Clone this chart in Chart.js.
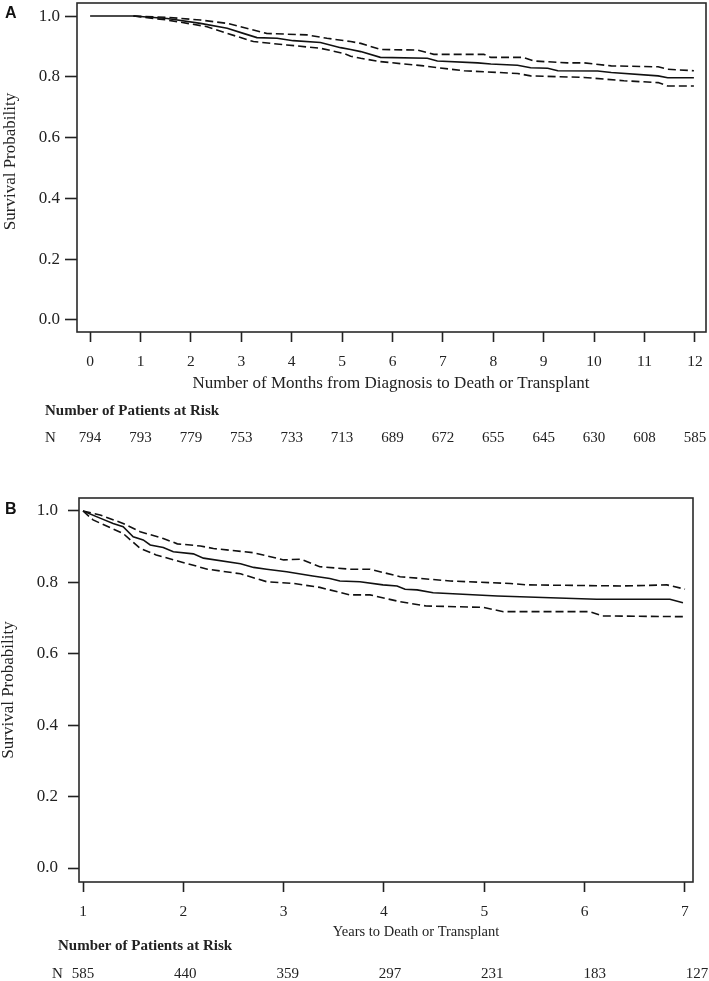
<!DOCTYPE html>
<html>
<head>
<meta charset="utf-8">
<script src="https://cdn.jsdelivr.net/npm/chart.js@4.4.0/dist/chart.umd.min.js"></script>
<style>
  html, body { margin: 0; padding: 0; background: #fff; }
  #wrap { position: relative; width: 709px; height: 981px; }
  canvas { position: absolute; left: 0; }
  #chartA { top: 0; width: 709px; height: 460px; }
  #chartB { top: 460px; width: 709px; height: 521px; }
</style>
</head>
<body>
<div id="wrap">
  <canvas id="chartA" width="709" height="460"></canvas>
  <canvas id="chartB" width="709" height="521"></canvas>
</div>
<script>
  // ────────── Panel A data: months from diagnosis ──────────
  const monthTicks = [0, 1, 2, 3, 4, 5, 6, 7, 8, 9, 10, 11, 12];
  const monthRisk  = [794, 793, 779, 753, 733, 713, 689, 672, 655, 645, 630, 608, 585];

  const aSurvX  = [0, 0.86, 1.53, 2.19, 2.72, 3.04, 3.31, 3.71, 4.03, 4.57, 4.97, 5.17, 5.37, 5.76, 6.69, 6.89, 7.69, 7.95, 8.48, 8.74, 9.08, 9.28, 10.07, 10.34, 11.27, 11.46, 11.98];
  const aSurvY  = [1.0, 1.0, 0.992, 0.976, 0.96, 0.943, 0.929, 0.927, 0.919, 0.913, 0.896, 0.89, 0.883, 0.864, 0.861, 0.852, 0.846, 0.842, 0.838, 0.83, 0.828, 0.82, 0.819, 0.814, 0.803, 0.797, 0.797];
  const aUpperX = [0.86, 1.53, 2.19, 2.72, 3.24, 3.5, 4.3, 4.7, 5.17, 5.37, 5.76, 6.5, 6.82, 7.81, 7.95, 8.6, 8.8, 9.47, 9.8, 10.34, 11.27, 11.46, 11.98];
  const aUpperY = [1.0, 0.996, 0.987, 0.976, 0.954, 0.943, 0.938, 0.927, 0.916, 0.91, 0.89, 0.888, 0.874, 0.874, 0.864, 0.864, 0.852, 0.846, 0.846, 0.836, 0.833, 0.825, 0.82];
  const aLowerX = [0.86, 1.53, 2.32, 2.72, 3.24, 3.9, 4.57, 5.03, 5.17, 5.37, 5.76, 6.62, 7.15, 7.42, 8.48, 8.74, 9.8, 10.59, 11.27, 11.46, 11.98];
  const aLowerY = [1.0, 0.987, 0.965, 0.943, 0.916, 0.905, 0.894, 0.877, 0.868, 0.861, 0.85, 0.836, 0.825, 0.82, 0.811, 0.803, 0.798, 0.787, 0.781, 0.77, 0.77];

  // ────────── Panel B data: years ──────────
  const yearTicks = [1, 2, 3, 4, 5, 6, 7];
  const yearRisk  = [585, 440, 359, 297, 231, 183, 127];

  const bSurvX  = [1.0, 1.17, 1.30, 1.40, 1.50, 1.60, 1.67, 1.80, 1.90, 2.10, 2.20, 2.57, 2.70, 2.83, 3.03, 3.29, 3.46, 3.56, 3.76, 3.99, 4.13, 4.21, 4.33, 4.49, 5.13, 5.66, 6.12, 6.85, 6.98];
  const bSurvY  = [1.0, 0.98, 0.965, 0.956, 0.928, 0.919, 0.905, 0.898, 0.886, 0.88, 0.868, 0.852, 0.842, 0.837, 0.83, 0.818, 0.811, 0.804, 0.802, 0.793, 0.79, 0.781, 0.779, 0.771, 0.762, 0.757, 0.753, 0.753, 0.743];
  const bUpperX = [1.0, 1.17, 1.40, 1.57, 1.80, 1.94, 2.17, 2.30, 2.70, 3.0, 3.17, 3.36, 3.66, 3.86, 4.16, 4.66, 5.26, 5.43, 6.38, 6.82, 7.0];
  const bUpperY = [1.0, 0.989, 0.965, 0.942, 0.923, 0.908, 0.902, 0.895, 0.883, 0.863, 0.865, 0.844, 0.837, 0.837, 0.816, 0.804, 0.797, 0.793, 0.79, 0.793, 0.781];
  const bLowerX = [1.0, 1.10, 1.40, 1.57, 1.73, 1.97, 2.24, 2.57, 2.83, 3.10, 3.36, 3.66, 3.86, 4.16, 4.42, 4.99, 5.19, 6.05, 6.18, 7.0];
  const bLowerY = [1.0, 0.975, 0.937, 0.895, 0.877, 0.858, 0.837, 0.824, 0.802, 0.797, 0.786, 0.765, 0.765, 0.746, 0.734, 0.73, 0.718, 0.718, 0.706, 0.704];

  const probTicks = [0, 0.2, 0.4, 0.6, 0.8, 1.0];

  Chart.defaults.font.family = "'Liberation Serif', 'Times New Roman', serif";
  Chart.defaults.color = '#222';

  const pts = (xs, ys) => xs.map((x, i) => ({ x: x, y: ys[i] }));
  const SERIF = "'Liberation Serif', 'Times New Roman', serif";

  // ────────── Kaplan-Meier panel factory ──────────
  function makePanel(id, p) {
    const ctx = document.getElementById(id).getContext('2d');

    const extras = {
      id: 'km-extras-' + id,
      afterDraw(chart) {
        const c = chart.ctx;
        const a = chart.chartArea;
        const xs = chart.scales.x;
        c.save();
        // frame
        c.strokeStyle = '#2a2a2a';
        c.lineWidth = 1.6;
        c.strokeRect(a.left, a.top, a.right - a.left, a.bottom - a.top);
        // panel letter
        c.fillStyle = '#111';
        c.font = "bold 16px 'Liberation Sans', Arial, sans-serif";
        c.textAlign = 'left';
        c.textBaseline = 'alphabetic';
        c.fillText(p.letter, 5, p.letterY);
        // y title
        c.save();
        c.translate(p.yTitleX, (a.top + a.bottom) / 2 + p.yTitleShift);
        c.rotate(-Math.PI / 2);
        c.font = '17px ' + SERIF;
        c.textAlign = 'center';
        c.textBaseline = 'middle';
        c.fillStyle = '#222';
        c.fillText('Survival Probability', 0, 0);
        c.restore();
        // x title
        c.font = p.xTitleSize + 'px ' + SERIF;
        c.textAlign = 'center';
        c.fillStyle = '#222';
        c.fillText(p.xTitle, p.xTitleX, p.xTitleY);
        // at-risk table
        c.font = 'bold 15px ' + SERIF;
        c.textAlign = 'left';
        c.fillText('Number of Patients at Risk', p.riskLeft, p.riskHeadY);
        c.font = '15px ' + SERIF;
        c.fillText('N', p.nLeft, p.riskRowY);
        c.textAlign = 'center';
        p.ticks.forEach((t, i) => {
          const px = xs.getPixelForValue(t) + (t - p.ticks[0]) * p.riskDrift;
          c.fillText(String(p.risk[i]), px, p.riskRowY);
        });
        c.restore();
      }
    };

    return new Chart(ctx, {
      type: 'line',
      data: {
        datasets: [
          { data: pts(p.survX, p.survY), borderColor: '#111', borderWidth: 1.6, pointRadius: 0, fill: false },
          { data: pts(p.upX, p.upY), borderColor: '#111', borderWidth: 1.6, borderDash: [8, 4], pointRadius: 0, fill: false },
          { data: pts(p.loX, p.loY), borderColor: '#111', borderWidth: 1.6, borderDash: [8, 4], pointRadius: 0, fill: false }
        ]
      },
      options: {
        responsive: false,
        animation: false,
        events: [],
        layout: { padding: { top: p.padTop, right: p.padRight, left: 0, bottom: 0 } },
        plugins: { legend: { display: false }, tooltip: { enabled: false } },
        scales: {
          x: {
            type: 'linear',
            min: p.xMin, max: p.xMax,
            afterBuildTicks: s => { s.ticks = p.ticks.map(v => ({ value: v })); },
            afterFit: s => { s.height = p.xAxisH; s.paddingLeft = 0; s.paddingRight = 0; },
            border: { display: false },
            grid: { drawOnChartArea: false, drawTicks: true, tickLength: 10, tickWidth: 1.6, tickColor: '#222' },
            ticks: { autoSkip: false, maxRotation: 0, padding: 11, font: { size: p.xTickSize }, color: '#222' }
          },
          y: {
            type: 'linear',
            min: p.yMin, max: p.yMax,
            afterBuildTicks: s => { s.ticks = probTicks.map(v => ({ value: v })); },
            afterFit: s => { s.width = p.yAxisW; s.paddingTop = 0; s.paddingBottom = 0; },
            border: { display: false },
            grid: { drawOnChartArea: false, drawTicks: true, tickLength: p.yTickLen, tickWidth: 1.6, tickColor: '#222' },
            ticks: { padding: p.yTickPad, font: { size: 17 }, color: '#222', callback: v => v.toFixed(1) }
          }
        }
      },
      plugins: [extras]
    });
  }

  // ────────── Panel A ──────────
  makePanel('chartA', {
    letter: 'A', letterY: 18,
    survX: aSurvX, survY: aSurvY, upX: aUpperX, upY: aUpperY, loX: aLowerX, loY: aLowerY,
    ticks: monthTicks, risk: monthRisk, riskDrift: 0,
    xMin: -0.26, xMax: 12.22, yMin: -0.04, yMax: 1.043,
    padTop: 3, padRight: 3, xAxisH: 128, yAxisW: 77,
    yTickLen: 12, yTickPad: 5, xTickSize: 15.5,
    yTitleX: 11, yTitleShift: -6,
    xTitle: 'Number of Months from Diagnosis to Death or Transplant', xTitleSize: 17, xTitleX: 391, xTitleY: 388,
    riskLeft: 45, riskHeadY: 415, nLeft: 45, riskRowY: 442
  });

  // ────────── Panel B ──────────
  makePanel('chartB', {
    letter: 'B', letterY: 54,
    survX: bSurvX, survY: bSurvY, upX: bUpperX, upY: bUpperY, loX: bLowerX, loY: bLowerY,
    ticks: yearTicks, risk: yearRisk, riskDrift: 2,
    xMin: 0.96, xMax: 7.08, yMin: -0.0392, yMax: 1.0364,
    padTop: 38, padRight: 16, xAxisH: 99, yAxisW: 79,
    yTickLen: 11, yTickPad: 10, xTickSize: 15.5,
    yTitleX: 9, yTitleShift: 0,
    xTitle: 'Years to Death or Transplant', xTitleSize: 14.5, xTitleX: 416, xTitleY: 476,
    riskLeft: 58, riskHeadY: 490, nLeft: 52, riskRowY: 518
  });
</script>
</body>
</html>
